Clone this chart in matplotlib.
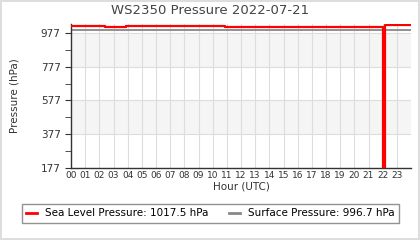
import matplotlib
matplotlib.use("Agg")
import matplotlib.pyplot as plt
import matplotlib.transforms as mtransforms
import numpy as np

# Data (hours UTC)
slp_hours = [0.0, 2.25, 2.3, 2.4, 3.9, 10.9, 22.02, 22.1, 22.16, 24.0]
slp_values = [1016.0, 1019.0, 1016.0, 1015.0, 1017.0, 1015.0, 177.0, 177.0, 1022.0, 1022.0]
surf_hours = [0.0, 24.0]
surf_values = [996.7, 996.7]
hour_labels = ["%02d" % h for h in range(24)]
ytick_values = [177, 377, 577, 777, 977]
slp_label = "Sea Level Pressure: 1017.5 hPa"
surf_label = "Surface Pressure: 996.7 hPa"

fig = plt.figure(figsize=(4.2, 2.4), dpi=100)
fig.patch.set_edgecolor("#dddddd")
fig.patch.set_linewidth(1.5)
ax = fig.add_axes([71/420, 1-168/240, 340/420, 144/240])

ymin, ymax = 177, 1030
for lo in [377, 777]:
    ax.axhspan(lo, lo + 200, color="#f5f5f5", zorder=0, lw=0)

ax.step(slp_hours, slp_values, where="post", color="#ff0000", lw=1.6, zorder=3)
ax.plot(surf_hours, surf_values, color="#888888", lw=1.3, zorder=2)

ax.set_xlim(0, 24)
ax.set_ylim(ymin, ymax)
ax.set_xticks(range(24))
ax.set_xticklabels(hour_labels, fontsize=6.5, color="#333333")
offset = mtransforms.ScaledTranslation(-3/100, 0, fig.dpi_scale_trans)
for lab in ax.get_xticklabels():
    lab.set_transform(lab.get_transform() + offset)
ax.tick_params(axis="x", length=0, pad=2)
ax.set_yticks(ytick_values)
ax.set_yticks([277, 477, 677, 877], minor=True)
ax.tick_params(axis="y", which="both", length=4, labelsize=7.5, labelcolor="#333333", color="#333333")
ax.grid(axis="x", color="#dddddd", lw=0.8, zorder=1)
ax.grid(axis="y", which="major", color="#dddddd", lw=0.8, zorder=1)
ax.set_axisbelow(True)
for s in ["top", "right"]:
    ax.spines[s].set_visible(False)
for s in ["left", "bottom"]:
    ax.spines[s].set_color("#333333")
    ax.spines[s].set_linewidth(1.0)

fig.text(0.5, 1-10/240, "WS2350 Pressure 2022-07-21", fontsize=9.5, color="#444444",
         ha="center", va="center")
ax.set_xlabel("Hour (UTC)", fontsize=7.5, color="#333333", labelpad=1)
ax.set_ylabel("Pressure (hPa)", fontsize=7.5, color="#333333", labelpad=15)

from matplotlib.lines import Line2D
handles = [Line2D([], [], color="#ff0000", lw=2), Line2D([], [], color="#888888", lw=2)]
leg = fig.legend(handles, [slp_label, surf_label], loc="center", bbox_to_anchor=(210.5/420, 1-213.5/240),
                 ncol=2, fontsize=7.5, frameon=True, fancybox=False, edgecolor="#777777",
                 handlelength=1.0, handletextpad=0.8, columnspacing=2.0, borderpad=0.45)
leg.get_frame().set_linewidth(1.0)

fig.savefig("out.png", dpi=100)
